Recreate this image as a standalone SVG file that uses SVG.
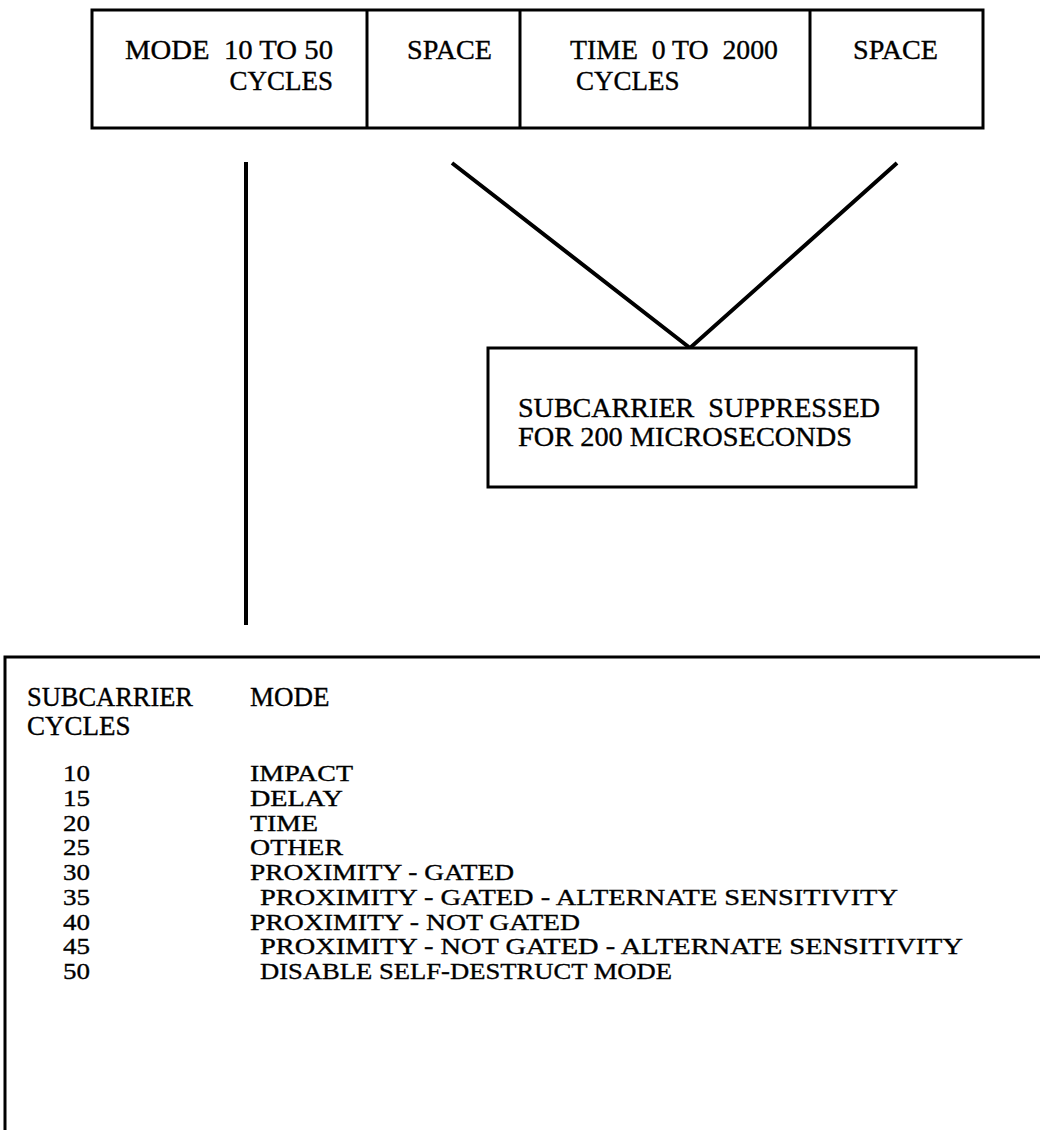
<svg xmlns="http://www.w3.org/2000/svg" width="1040" height="1130" viewBox="0 0 1040 1130">
  <style>
    .box { fill: #ffffff; stroke: #000000; stroke-width: 3; }
    .rule { fill: none; stroke: #000000; stroke-width: 3; }
    .link { fill: none; stroke: #000000; stroke-width: 4; stroke-linecap: butt; }
    .t { font-family: "Liberation Serif", "Times New Roman", serif; font-size: 27px; fill: #000000; stroke: #000000; stroke-width: 0.35; }
    .row { font-size: 24px; }
  </style>
  <rect width="1040" height="1130" fill="#ffffff"/>

  <!-- word format: mode / space / time / space -->
  <g id="word-format">
    <rect class="box" x="92" y="10" width="891" height="118"/>
    <line class="rule" x1="367" y1="10" x2="367" y2="128"/>
    <line class="rule" x1="520" y1="10" x2="520" y2="128"/>
    <line class="rule" x1="810" y1="10" x2="810" y2="128"/>
  </g>
  <g id="field-mode">
    <text class="t" x="125" y="59" xml:space="preserve" textLength="208" lengthAdjust="spacingAndGlyphs">MODE  10 TO 50</text>
    <text class="t" x="333" y="90" text-anchor="end">CYCLES</text>
  </g>
  <g id="field-space-1">
    <text class="t" x="407" y="59" textLength="85" lengthAdjust="spacingAndGlyphs">SPACE</text>
  </g>
  <g id="field-time">
    <text class="t" x="570" y="59" xml:space="preserve" textLength="208" lengthAdjust="spacingAndGlyphs">TIME  0 TO  2000</text>
    <text class="t" x="576" y="90">CYCLES</text>
  </g>
  <g id="field-space-2">
    <text class="t" x="853" y="59" textLength="85" lengthAdjust="spacingAndGlyphs">SPACE</text>
  </g>

  <!-- connectors -->
  <g id="connectors">
    <line class="link" x1="246" y1="162" x2="246" y2="625"/>
    <polyline class="link" points="452,163 690,348 897,163"/>
  </g>

  <!-- space fields: subcarrier suppressed -->
  <g id="suppressed">
    <rect class="box" x="488" y="348" width="428" height="139"/>
    <text class="t" x="518" y="417" xml:space="preserve" textLength="362" lengthAdjust="spacingAndGlyphs">SUBCARRIER  SUPPRESSED</text>
    <text class="t" x="518" y="446" textLength="334" lengthAdjust="spacingAndGlyphs">FOR 200 MICROSECONDS</text>
  </g>

  <!-- mode table -->
  <g id="mode-table">
    <path class="rule" d="M5,1130 V657 H1040"/>
    <text class="t" x="27" y="706" textLength="166" lengthAdjust="spacingAndGlyphs">SUBCARRIER</text>
    <text class="t" x="250" y="706">MODE</text>
    <text class="t" x="27" y="735">CYCLES</text>

    <!-- subcarrier cycle counts -->
    <g class="t row">
      <text x="63" y="781" textLength="27" lengthAdjust="spacingAndGlyphs">10</text>
      <text x="63" y="805.75" textLength="27" lengthAdjust="spacingAndGlyphs">15</text>
      <text x="63" y="830.5" textLength="27" lengthAdjust="spacingAndGlyphs">20</text>
      <text x="63" y="855.25" textLength="27" lengthAdjust="spacingAndGlyphs">25</text>
      <text x="63" y="880" textLength="27" lengthAdjust="spacingAndGlyphs">30</text>
      <text x="63" y="904.75" textLength="27" lengthAdjust="spacingAndGlyphs">35</text>
      <text x="63" y="929.5" textLength="27" lengthAdjust="spacingAndGlyphs">40</text>
      <text x="63" y="954.25" textLength="27" lengthAdjust="spacingAndGlyphs">45</text>
      <text x="63" y="979" textLength="27" lengthAdjust="spacingAndGlyphs">50</text>
    </g>
    <!-- mode names -->
    <g class="t row">
      <text x="250" y="781" textLength="103" lengthAdjust="spacingAndGlyphs">IMPACT</text>
      <text x="250" y="805.75" textLength="93" lengthAdjust="spacingAndGlyphs">DELAY</text>
      <text x="250" y="830.5" textLength="68" lengthAdjust="spacingAndGlyphs">TIME</text>
      <text x="250" y="855.25" textLength="93" lengthAdjust="spacingAndGlyphs">OTHER</text>
      <text x="250" y="880" textLength="264" lengthAdjust="spacingAndGlyphs">PROXIMITY - GATED</text>
      <text x="260" y="904.75" textLength="638" lengthAdjust="spacingAndGlyphs">PROXIMITY - GATED - ALTERNATE SENSITIVITY</text>
      <text x="250" y="929.5" textLength="330" lengthAdjust="spacingAndGlyphs">PROXIMITY - NOT GATED</text>
      <text x="260" y="954.25" textLength="703" lengthAdjust="spacingAndGlyphs">PROXIMITY - NOT GATED - ALTERNATE SENSITIVITY</text>
      <text x="260" y="979" textLength="412" lengthAdjust="spacingAndGlyphs">DISABLE SELF-DESTRUCT MODE</text>
    </g>
  </g>
</svg>
